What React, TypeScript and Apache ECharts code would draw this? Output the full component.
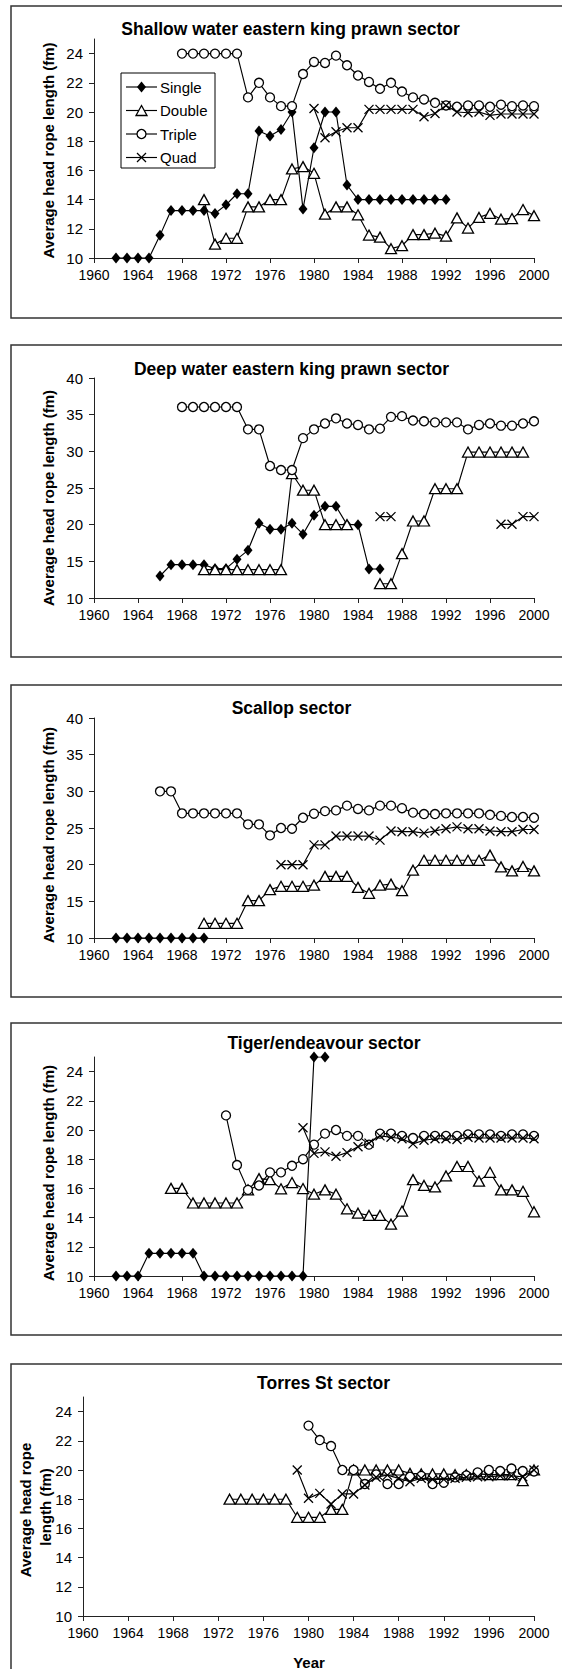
import React, { useEffect, useRef } from 'react';
import * as echarts from 'echarts';

const YEARS = [
  '1960', '1961', '1962', '1963', '1964', '1965', '1966', '1967', '1968', '1969',
  '1970', '1971', '1972', '1973', '1974', '1975', '1976', '1977', '1978', '1979',
  '1980', '1981', '1982', '1983', '1984', '1985', '1986', '1987', '1988', '1989',
  '1990', '1991', '1992', '1993', '1994', '1995', '1996', '1997', '1998', '1999', '2000',
];

const Y_TICKS_SMALL = [10, 12, 14, 16, 18, 20, 22, 24];
const Y_TICKS_LARGE = [10, 15, 20, 25, 30, 35, 40];

const TITLES = [
  'Shallow water eastern king prawn sector',
  'Deep water eastern king prawn sector',
  'Scallop sector',
  'Tiger/endeavour sector',
  'Torres St sector',
];

const SERIES_NAMES = ['Single', 'Double', 'Triple', 'Quad'];
const _ = null;

// Shallow water eastern king prawn
const SW_SINGLE = [_, _, 10, 10, 10, 10, 11.55, 13.25, 13.25, 13.25, 13.25, 13.05, 13.64, 14.4, 14.4, 18.7, 18.35, 18.8, 20.0, 13.35, 17.55, 20.0, 20.0, 15.0, 14.0, 14.0, 14.0, 14.0, 14.0, 14.0, 14.0, 14.0, 14.0, _, _, _, _, _, _, _, _];
const SW_DOUBLE = [_, _, _, _, _, _, _, _, _, _, 14.0, 10.95, 11.35, 11.35, 13.5, 13.5, 14.0, 14.0, 16.1, 16.26, 15.8, 13.0, 13.5, 13.5, 12.96, 11.57, 11.43, 10.64, 10.84, 11.6, 11.6, 11.7, 11.5, 12.75, 12.05, 12.78, 13.05, 12.66, 12.7, 13.32, 12.9];
const SW_TRIPLE = [_, _, _, _, _, _, _, _, 24, 24, 24, 24, 24, 24, 21.0, 22.0, 21.0, 20.4, 20.4, 22.6, 23.43, 23.36, 23.86, 23.2, 22.5, 22.06, 21.59, 22.0, 21.4, 21.0, 20.86, 20.63, 20.45, 20.36, 20.45, 20.45, 20.36, 20.5, 20.4, 20.45, 20.4];
const SW_QUAD = [_, _, _, _, _, _, _, _, _, _, _, _, _, _, _, _, _, _, _, _, 20.24, 18.24, 18.65, 18.92, 18.92, 20.18, 20.18, 20.18, 20.18, 20.18, 19.67, 19.9, 20.45, 20.0, 19.95, 20.0, 19.77, 19.86, 19.86, 19.86, 19.86];

// Deep water eastern king prawn
const DW_SINGLE = [_, _, _, _, _, _, 13.0, 14.55, 14.55, 14.55, 14.55, 14.0, 14.0, 15.3, 16.5, 20.2, 19.36, 19.36, 20.2, 18.7, 21.3, 22.5, 22.5, 20.0, 20.0, 13.95, 13.95, _, _, _, _, _, _, _, _, _, _, _, _, _, _];
const DW_DOUBLE = [_, _, _, _, _, _, _, _, _, _, 13.86, 13.86, 13.86, 13.86, 13.86, 13.86, 13.86, 13.86, 26.95, 24.7, 24.7, 20.0, 20.0, 20.0, _, _, 11.95, 11.95, 16.05, 20.5, 20.5, 24.9, 24.9, 24.9, 29.9, 29.9, 29.9, 29.9, 29.9, 29.9, _];
const DW_TRIPLE = [_, _, _, _, _, _, _, _, 36.05, 36.05, 36.05, 36.05, 36.05, 36.05, 33.0, 33.0, 28.0, 27.45, 27.45, 31.8, 33.0, 33.8, 34.5, 33.8, 33.6, 33.0, 33.1, 34.7, 34.8, 34.2, 34.1, 33.95, 33.95, 33.95, 33.0, 33.6, 33.8, 33.5, 33.5, 33.8, 34.1];
const DW_QUAD = [_, _, _, _, _, _, _, _, _, _, _, _, _, _, _, _, _, _, _, _, _, _, _, _, _, _, 21.1, 21.1, _, _, _, _, _, _, _, _, _, 20.05, 20.05, 21.1, 21.1];

// Scallop
const SC_SINGLE = [_, _, 10, 10, 10, 10, 10, 10, 10, 10, 10, _, _, _, _, _, _, _, _, _, _, _, _, _, _, _, _, _, _, _, _, _, _, _, _, _, _, _, _, _, _];
const SC_DOUBLE = [_, _, _, _, _, _, _, _, _, _, 12, 12, 12, 12, 15.1, 15.1, 16.6, 17.05, 17.05, 17.05, 17.2, 18.4, 18.4, 18.4, 16.9, 16.1, 17.2, 17.35, 16.45, 19.25, 20.6, 20.6, 20.6, 20.6, 20.6, 20.6, 21.3, 19.7, 19.15, 19.75, 19.15];
const SC_TRIPLE = [_, _, _, _, _, _, 30, 30, 27, 27, 27, 27, 27, 27, 25.5, 25.5, 24.0, 25.0, 24.9, 26.4, 26.95, 27.3, 27.4, 28.05, 27.6, 27.4, 28.05, 28.05, 27.7, 27.1, 26.9, 26.9, 27.0, 27.0, 27.0, 27.0, 26.8, 26.65, 26.5, 26.5, 26.4];
const SC_QUAD = [_, _, _, _, _, _, _, _, _, _, _, _, _, _, _, _, _, 20, 20, 20, 22.7, 22.7, 23.9, 23.9, 23.9, 23.9, 23.35, 24.6, 24.5, 24.5, 24.3, 24.6, 24.9, 25.15, 24.9, 24.9, 24.6, 24.5, 24.5, 24.8, 24.8];

// Tiger/endeavour
const TE_SINGLE = [_, _, 10, 10, 10, 11.55, 11.55, 11.55, 11.55, 11.55, 10, 10, 10, 10, 10, 10, 10, 10, 10, 10, 25, 25, _, _, _, _, _, _, _, _, _, _, _, _, _, _, _, _, _, _, _];
const TE_DOUBLE = [_, _, _, _, _, _, _, 16, 16, 15, 15, 15, 15, 15, 15.9, 16.67, 16.6, 15.97, 16.4, 15.99, 15.6, 15.9, 15.6, 14.6, 14.3, 14.15, 14.15, 13.55, 14.45, 16.6, 16.2, 16.1, 16.85, 17.5, 17.5, 16.5, 17.1, 15.9, 15.9, 15.8, 14.4];
const TE_TRIPLE = [_, _, _, _, _, _, _, _, _, _, _, _, 21.0, 17.6, 15.9, 16.2, 17.1, 17.1, 17.55, 18.0, 19.0, 19.75, 20.0, 19.6, 19.6, 19.0, 19.75, 19.75, 19.6, 19.45, 19.6, 19.6, 19.6, 19.6, 19.7, 19.7, 19.7, 19.6, 19.7, 19.7, 19.6];
const TE_QUAD = [_, _, _, _, _, _, _, _, _, _, _, _, _, _, _, _, _, _, _, 20.15, 18.4, 18.5, 18.2, 18.45, 18.85, 19.1, 19.6, 19.5, 19.4, 19.05, 19.3, 19.4, 19.4, 19.35, 19.5, 19.45, 19.45, 19.45, 19.45, 19.45, 19.4];

// Torres St
const TS_DOUBLE = [_, _, _, _, _, _, _, _, _, _, _, _, _, 18, 18, 18, 18, 18, 18, 16.76, 16.76, 16.76, 17.3, 17.3, 20, 20, 20, 20, 20, 19.77, 19.73, 19.73, 19.73, 19.68, 19.68, 19.73, 19.68, 19.68, 19.68, 19.27, 20.0];
const TS_TRIPLE = [_, _, _, _, _, _, _, _, _, _, _, _, _, _, _, _, _, _, _, _, 23.04, 22.05, 21.64, 20.0, 20.0, 19.04, 19.7, 19.04, 19.04, 19.54, 19.6, 19.04, 19.13, 19.5, 19.63, 19.84, 20.0, 19.93, 20.1, 19.93, 19.9];
const TS_QUAD = [_, _, _, _, _, _, _, _, _, _, _, _, _, _, _, _, _, _, _, 20.0, 18.06, 18.4, 17.67, 18.36, 18.36, 18.97, 19.5, 19.65, 19.43, 19.2, 19.43, 19.36, 19.36, 19.43, 19.5, 19.54, 19.54, 19.6, 19.6, 19.54, 20.0];

const PANEL_DATA = [
  [SW_SINGLE, SW_DOUBLE, SW_TRIPLE, SW_QUAD],
  [DW_SINGLE, DW_DOUBLE, DW_TRIPLE, DW_QUAD],
  [SC_SINGLE, SC_DOUBLE, SC_TRIPLE, SC_QUAD],
  [TE_SINGLE, TE_DOUBLE, TE_TRIPLE, TE_QUAD],
  [null, TS_DOUBLE, TS_TRIPLE, TS_QUAD],
];

const PANEL_Y = [
  { min: 10, max: 25, ticks: Y_TICKS_SMALL },
  { min: 10, max: 40, ticks: Y_TICKS_LARGE },
  { min: 10, max: 40, ticks: Y_TICKS_LARGE },
  { min: 10, max: 25, ticks: Y_TICKS_SMALL },
  { min: 10, max: 25, ticks: Y_TICKS_SMALL },
];

// layout (pixels)
const GRIDS = [
  { left: 94, top: 39, width: 440, height: 219 },
  { left: 94, top: 378, width: 440, height: 220 },
  { left: 94, top: 718, width: 440, height: 220 },
  { left: 94, top: 1057, width: 440, height: 219 },
  { left: 83, top: 1397, width: 451, height: 219 },
];
const BOX_TOPS = [6, 345, 685, 1023, 1364];
const TITLE_POS = [
  [290.5, 29], [291.5, 369], [291.5, 708], [324, 1043], [323.5, 1383],
];
const YLABEL_POS = [
  [48, 150.5], [48, 498], [48, 835], [48, 1173],
];

const FONT = 'Arial, "Liberation Sans", Helvetica, sans-serif';
const INK = '#000';
const AXIS = '#222';

const SYMBOLS = [
  { symbol: 'diamond', symbolSize: [9, 11], itemStyle: { color: INK, borderWidth: 0 } },
  { symbol: 'triangle', symbolSize: [11, 10], itemStyle: { color: '#fff', borderColor: INK, borderWidth: 1.3 } },
  { symbol: 'circle', symbolSize: 9, itemStyle: { color: '#fff', borderColor: INK, borderWidth: 1.3 } },
  { symbol: 'path://M0,0L10,10M10,0L0,10', symbolSize: 9, itemStyle: { color: 'none', borderColor: INK, borderWidth: 1.3 } },
];

function buildOption() {
  const grid = GRIDS.map((g) => ({ ...g, containLabel: false, outerBoundsMode: 'none' }));
  const xAxis = GRIDS.map((_g, i) => ({
    type: 'category',
    gridIndex: i,
    data: YEARS,
    boundaryGap: false,
    axisLine: { show: true, lineStyle: { color: AXIS, width: 1 } },
    axisTick: { show: true, interval: 3, length: 5, inside: false, lineStyle: { color: AXIS } },
    axisLabel: { interval: 3, fontSize: 14, color: INK, fontFamily: FONT, margin: 10 },
    splitLine: { show: false },
  }));
  const yAxis = PANEL_Y.map((y, i) => ({
    type: 'value',
    gridIndex: i,
    min: y.min,
    max: y.max,
    axisLine: { show: true, lineStyle: { color: AXIS, width: 1 } },
    axisTick: { show: true, length: 5, inside: false, customValues: y.ticks, lineStyle: { color: AXIS } },
    axisLabel: { fontSize: 15, color: INK, fontFamily: FONT, margin: 11, customValues: y.ticks },
    splitLine: { show: false },
  }));
  const series: any[] = [];
  PANEL_DATA.forEach((panel, p) => {
    panel.forEach((values, k) => {
      if (!values) return;
      series.push({
        type: 'line',
        name: SERIES_NAMES[k],
        xAxisIndex: p,
        yAxisIndex: p,
        data: values,
        showSymbol: true,
        showAllSymbol: true,
        connectNulls: false,
        symbol: SYMBOLS[k].symbol,
        symbolSize: SYMBOLS[k].symbolSize,
        symbolKeepAspect: false,
        itemStyle: SYMBOLS[k].itemStyle,
        lineStyle: { color: INK, width: 1.15 },
        color: INK,
        silent: true,
        z: 2 + k,
      });
    });
  });

  const graphic: any[] = [];
  BOX_TOPS.forEach((top, i) => {
    graphic.push({
      type: 'rect',
      shape: { x: 11, y: top, width: 560, height: i === 4 ? 330 : 312 },
      style: { fill: 'none', stroke: '#333', lineWidth: 1.5 },
      silent: true,
      z: 1,
    });
  });
  TITLES.forEach((t, i) => {
    graphic.push({
      type: 'text',
      x: TITLE_POS[i][0],
      y: TITLE_POS[i][1],
      style: { text: t, font: `bold 17.5px ${FONT}`, fill: INK, align: 'center', verticalAlign: 'middle' },
      silent: true,
    });
  });
  YLABEL_POS.forEach((pos) => {
    graphic.push({
      type: 'text',
      x: pos[0],
      y: pos[1],
      rotation: Math.PI / 2,
      style: { text: 'Average head rope length (fm)', font: `bold 15px ${FONT}`, fill: INK, align: 'center', verticalAlign: 'middle' },
      silent: true,
    });
  });
  graphic.push({
    type: 'text', x: 25, y: 1510, rotation: Math.PI / 2,
    style: { text: 'Average head rope', font: `bold 15px ${FONT}`, fill: INK, align: 'center', verticalAlign: 'middle' },
    silent: true,
  });
  graphic.push({
    type: 'text', x: 45, y: 1507, rotation: Math.PI / 2,
    style: { text: 'length (fm)', font: `bold 15px ${FONT}`, fill: INK, align: 'center', verticalAlign: 'middle' },
    silent: true,
  });
  graphic.push({
    type: 'text', x: 309, y: 1662,
    style: { text: 'Year', font: `bold 15px ${FONT}`, fill: INK, align: 'center', verticalAlign: 'middle' },
    silent: true,
  });

  // legend (panel 1)
  const LX = 121, LY = 73;
  const legendChildren: any[] = [
    { type: 'rect', shape: { x: LX, y: LY, width: 94, height: 95 }, style: { fill: '#fff', stroke: INK, lineWidth: 1 } },
  ];
  const rowsY = [87, 110.5, 134, 157.5];
  SERIES_NAMES.forEach((name, k) => {
    const cy = rowsY[k];
    const cx = 141.5;
    legendChildren.push({ type: 'line', shape: { x1: 126, y1: cy, x2: 157, y2: cy }, style: { stroke: INK, lineWidth: 1.15 } });
    if (k === 0) {
      legendChildren.push({ type: 'polygon', shape: { points: [[cx, cy - 5.5], [cx + 4.5, cy], [cx, cy + 5.5], [cx - 4.5, cy]] }, style: { fill: INK } });
    } else if (k === 1) {
      legendChildren.push({ type: 'polygon', shape: { points: [[cx, cy - 5], [cx + 5.5, cy + 5], [cx - 5.5, cy + 5]] }, style: { fill: '#fff', stroke: INK, lineWidth: 1.3 } });
    } else if (k === 2) {
      legendChildren.push({ type: 'circle', shape: { cx, cy, r: 4.5 }, style: { fill: '#fff', stroke: INK, lineWidth: 1.3 } });
    } else {
      legendChildren.push({ type: 'line', shape: { x1: cx - 4.5, y1: cy - 4.5, x2: cx + 4.5, y2: cy + 4.5 }, style: { stroke: INK, lineWidth: 1.3 } });
      legendChildren.push({ type: 'line', shape: { x1: cx + 4.5, y1: cy - 4.5, x2: cx - 4.5, y2: cy + 4.5 }, style: { stroke: INK, lineWidth: 1.3 } });
    }
    legendChildren.push({
      type: 'text', x: 160, y: cy,
      style: { text: name, font: `15px ${FONT}`, fill: INK, align: 'left', verticalAlign: 'middle' },
    });
  });
  graphic.push({ type: 'group', children: legendChildren, z: 100, silent: true });

  return {
    animation: false,
    backgroundColor: '#fff',
    textStyle: { fontFamily: FONT },
    grid,
    xAxis,
    yAxis,
    series,
    graphic,
  };
}

export default function App() {
  const ref = useRef<HTMLDivElement>(null);
  useEffect(() => {
    document.body.style.margin = '0';
    const chart = echarts.init(ref.current as HTMLDivElement, null, { renderer: 'svg' });
    chart.setOption(buildOption() as any);
    return () => chart.dispose();
  }, []);
  return <div ref={ref} style={{ width: 562, height: 1669 }} />;
}
